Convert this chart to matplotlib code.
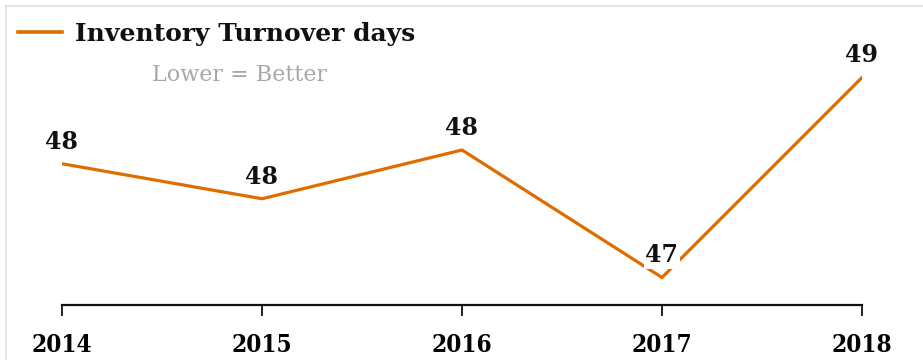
import matplotlib
matplotlib.use("Agg")
import matplotlib.pyplot as plt
from matplotlib.patches import Rectangle
from matplotlib.lines import Line2D

years = ["2014", "2015", "2016", "2017", "2018"]
turnover_days = [48.31, 48.03, 48.42, 47.40, 49.00]

series_name = "Inventory Turnover days"
note = "Lower = Better"
line_color = "#e06c00"

fig = plt.figure(figsize=(9.23, 3.6), dpi=100)
fig.patch.set_facecolor("white")

# light panel frame
fig.patches.append(Rectangle((6 / 923, -0.5), 2.0, 1.5 - 6 / 360, transform=fig.transFigure,
                             fill=False, edgecolor="#e6e6e6", linewidth=1.5, zorder=0))

ax = fig.add_axes([62 / 923, 1 - 305 / 360, 800 / 923, 305 / 360])
ax.set_facecolor("none")
x = list(range(len(years)))
ax.plot(x, turnover_days, color=line_color, linewidth=2.3, solid_joinstyle="miter", zorder=2)

for xi, v in zip(x, turnover_days):
    ax.annotate(f"{v:.0f}", (xi, v), xytext=(0, 16), textcoords="offset points",
                ha="center", va="center", fontsize=17, fontweight="heavy",
                family="DejaVu Serif", color="#111111", zorder=3,
                bbox=dict(boxstyle="square,pad=0.06", facecolor="white", edgecolor="none"))

ax.set_xlim(0, len(years) - 1)
ax.set_ylim(47.18, 49.62)
ax.set_xticks(x)
ax.set_xticklabels(years, fontsize=17.5, fontweight="heavy", family="DejaVu Serif",
                   fontstretch="condensed")
ax.set_yticks([])
for s in ("top", "right", "left"):
    ax.spines[s].set_visible(False)
ax.spines["bottom"].set_linewidth(1.6)
ax.spines["bottom"].set_color("#111111")
ax.spines["bottom"].set_clip_on(False)
ax.tick_params(axis="x", length=8, width=1.3, color="#111111", pad=12)

# legend entry and note
fig.add_artist(Line2D([18 / 923, 62 / 923], [1 - 32 / 360, 1 - 32 / 360], color=line_color,
                      linewidth=2.6, transform=fig.transFigure))
fig.text(75 / 923, 1 - 34 / 360, series_name, fontsize=18, fontweight="heavy",
         family="DejaVu Serif", va="center", ha="left", color="#111111")
fig.text(240 / 923, 1 - 75 / 360, note, fontsize=16, family="DejaVu Serif",
         va="center", ha="center", color="#a8a8a8")

fig.savefig("out.png", dpi=100)
